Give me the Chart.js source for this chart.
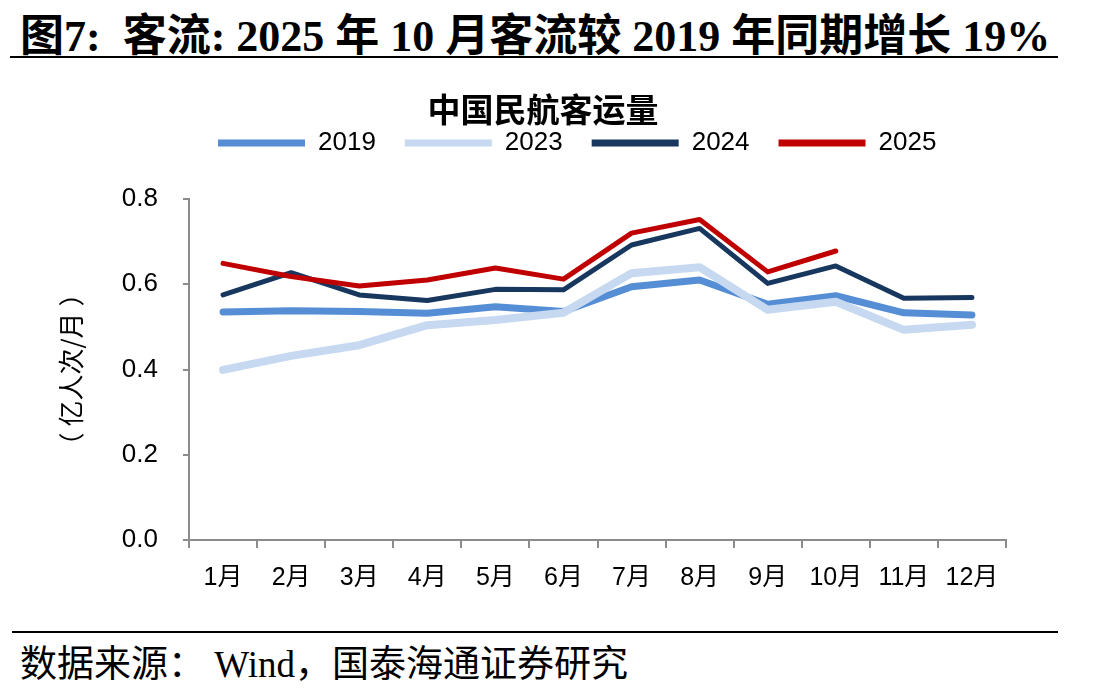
<!DOCTYPE html>
<html>
<head>
<meta charset="utf-8">
<script src="https://cdn.jsdelivr.net/npm/chart.js@4.4.1/dist/chart.umd.min.js"></script>
<style>
  html, body { margin: 0; padding: 0; background: #fff; }
  body { width: 1108px; height: 692px; position: relative; overflow: hidden; }
  #title {
    position: absolute; left: 20px; top: 0px; white-space: nowrap; line-height: 44px;
    font: bold 44px "Liberation Serif", "Noto Sans CJK SC", serif; color: #000;
  }
  .rule { position: absolute; height: 2px; background: #000; }
  #chartTitle {
    position: absolute; left: 0; width: 1086px; top: 84px; text-align: center; z-index: 2;
    line-height: 40px;
    font: bold 33px "Noto Sans CJK SC", sans-serif; color: #000;
  }
  #wrap { position: absolute; left: 0; top: 101px; width: 1108px; height: 509px; }
  #source {
    position: absolute; left: 20px; top: 634px; white-space: nowrap; line-height: 40px;
    font: 37px "Liberation Serif", "Noto Sans CJK SC", serif; color: #000;
  }
</style>
</head>
<body>
<div id="title">图7:&nbsp; 客流: 2025 年 10 月客流较 2019 年同期增长 19%</div>
<div class="rule" style="left:10px; top:56px; width:1048px;"></div>
<div id="chartTitle">中国民航客运量</div>
<div id="wrap"><canvas id="chart"></canvas></div>
<div class="rule" style="left:12px; top:631px; width:1046px;"></div>
<div id="source">数据来源：&nbsp;Wind，国泰海通证券研究</div>

<script>
// months on the x axis
const months = ["1月", "2月", "3月", "4月", "5月", "6月", "7月", "8月", "9月", "10月", "11月", "12月"];

// passenger volume, 100 million trips per month
const y2019 = [0.535, 0.538, 0.536, 0.532, 0.547, 0.536, 0.594, 0.610, 0.553, 0.573, 0.533, 0.528];
const y2023 = [0.399, 0.432, 0.457, 0.504, 0.516, 0.533, 0.626, 0.640, 0.540, 0.559, 0.493, 0.505];
const y2024 = [0.575, 0.627, 0.575, 0.562, 0.588, 0.587, 0.692, 0.731, 0.602, 0.643, 0.567, 0.569];
const y2025 = [0.649, 0.618, 0.596, 0.610, 0.638, 0.612, 0.720, 0.752, 0.629, 0.678];

const yTicks = [0, 0.2, 0.4, 0.6, 0.8];

const axisGray = "#8c8c8c";
const sans = '"Liberation Sans", Arial, "Noto Sans CJK SC", sans-serif';

const series = [
  { label: "2019", data: y2019, color: "#558ed5", width: 7, order: 3 },
  { label: "2023", data: y2023, color: "#c6d9f1", width: 8, order: 2 },
  { label: "2024", data: y2024, color: "#17375e", width: 5, order: 1 },
  { label: "2025", data: y2025, color: "#c00000", width: 5, order: 0 }
];

const ctx = document.getElementById("chart").getContext("2d");

const chart = new Chart(ctx, {
  type: "line",
  data: {
    labels: months,
    datasets: series.map((s) => ({
      label: s.label,
      data: s.data,
      borderColor: s.color,
      backgroundColor: s.color,
      borderWidth: s.width,
      borderCapStyle: "round",
      borderJoinStyle: "round",
      pointRadius: 0,
      pointHoverRadius: 0,
      tension: 0,
      fill: false,
      order: s.order
    }))
  },
  options: {
    responsive: true,
    maintainAspectRatio: false,
    animation: false,
    layout: { padding: { left: 0, right: 102, top: 0, bottom: 0 } },
    scales: {
      x: {
        type: "category",
        offset: true,
        border: { color: axisGray, width: 2 },
        grid: {
          display: true,
          offset: true,
          drawOnChartArea: false,
          drawTicks: true,
          tickLength: 8,
          color: axisGray,
          lineWidth: 2
        },
        ticks: {
          color: "#000",
          padding: 15,
          maxRotation: 0,
          autoSkip: false,
          font: { family: sans, size: 25 }
        },
        afterFit: (scale) => { scale.height = 70; }
      },
      y: {
        min: 0,
        max: 0.8,
        border: { color: axisGray, width: 2 },
        grid: {
          display: true,
          drawOnChartArea: false,
          drawTicks: true,
          tickLength: 6,
          color: axisGray,
          lineWidth: 2
        },
        afterBuildTicks: (scale) => {
          scale.ticks = yTicks.map((v) => ({ value: v }));
        },
        ticks: {
          color: "#000",
          padding: 25,
          font: { family: sans, size: 26 },
          callback: (v) => Number(v).toFixed(1)
        },
        title: {
          display: true,
          text: "（ 亿人次/月 ）",
          color: "#000",
          padding: { top: 56, bottom: 0 },
          font: { family: '"Noto Sans CJK SC", sans-serif', size: 26 }
        },
        afterFit: (scale) => { scale.width = 189; }
      }
    },
    plugins: {
      title: { display: false },
      // empty spacer between legend and plot area
      subtitle: {
        display: true,
        text: "",
        weight: 500,
        padding: { top: 0, bottom: 21 },
        font: { size: 10 }
      },
      tooltip: { enabled: false },
      legend: {
        display: true,
        position: "top",
        align: "start",
        fullSize: false,
        labels: {
          color: "#000",
          boxWidth: 87,
          boxHeight: 7,
          padding: 29,
          useBorderRadius: true,
          borderRadius: 3.5,
          font: { family: sans, size: 26 },
          generateLabels: (c) => c.data.datasets.map((ds, i) => ({
            text: ds.label,
            fillStyle: ds.borderColor,
            strokeStyle: ds.borderColor,
            lineWidth: 0,
            fontColor: "#000",
            hidden: !c.isDatasetVisible(i),
            datasetIndex: i
          }))
        }
      }
    }
  }
});
</script>
</body>
</html>
